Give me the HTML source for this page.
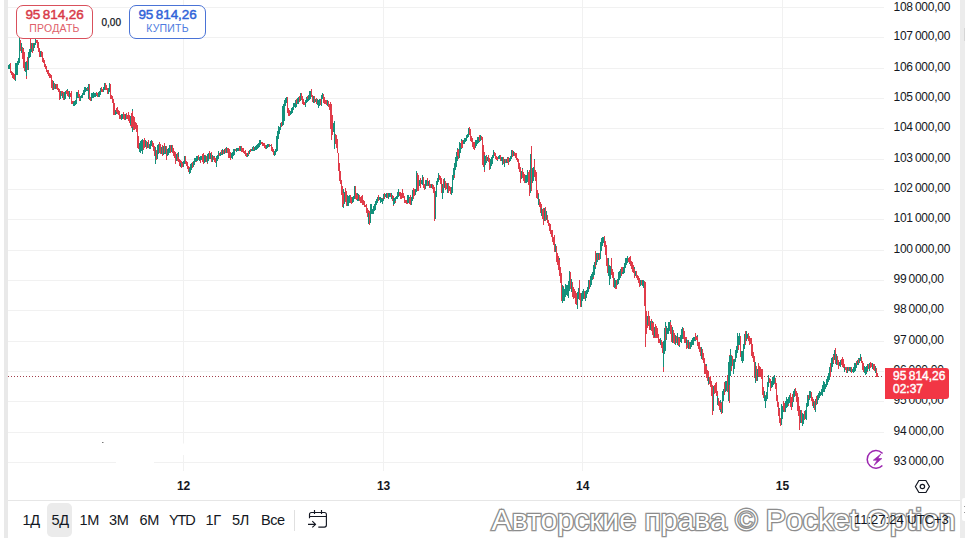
<!DOCTYPE html>
<html><head><meta charset="utf-8">
<style>
*{margin:0;padding:0;box-sizing:border-box}
html,body{width:965px;height:538px;overflow:hidden;background:#fff}
body{position:relative;font-family:"Liberation Sans","DejaVu Sans",sans-serif;color:#131722}
.abs{position:absolute}
#lstrip{left:4px;top:0;width:4px;height:538px;background:#e9e9e9}
#rstrip{left:960px;top:0;width:5px;height:538px;background:#ececec}
#chart{left:0;top:0}
.g{stroke:#14917c;stroke-width:1px;fill:none;shape-rendering:crispEdges}.r{stroke:#e03c4a;stroke-width:1px;fill:none;shape-rendering:crispEdges}
.pl{position:absolute;left:893.5px;font-size:12px;letter-spacing:-0.25px;line-height:14px;color:#131722;white-space:nowrap}
.tl{position:absolute;top:479px;font-size:12px;font-weight:bold;width:40px;margin-left:-20px;text-align:center;line-height:14px}
.box{position:absolute;top:5px;height:34px;border:1px solid;border-radius:7px;background:#fff;text-align:center}
.box .p{font-size:13.5px;font-weight:normal;-webkit-text-stroke:0.45px currentColor;line-height:14px;margin-top:2px;letter-spacing:-0.1px}
.box .l{font-size:10.5px;line-height:12px;margin-top:0px;letter-spacing:0.2px}
#sell{left:16px;width:77px;border-color:#d9505c;color:#d83a48}
#sell .l{color:#e0606a}
#buy{left:129px;width:77px;border-color:#4a73d6;color:#2f63d8}
#buy .l{color:#4e7be0}
#spread{left:101.5px;top:17px;font-size:10px;line-height:12px;-webkit-text-stroke:0.25px #131722}
#lastbox{left:885px;top:368px;width:64px;height:31px;background:#f23645;border-radius:0 3px 3px 0;color:#fff;font-size:12px;line-height:13px;padding:2px 0 0 8px;font-weight:bold}
#lastbox div{font-weight:normal;-webkit-text-stroke:0.4px #fff}
#tb{left:8px;top:500px;width:952px;height:38px;border-top:1px solid #e6e6e6}
.rb{position:absolute;top:513px;font-size:14.5px;line-height:14px;white-space:nowrap;letter-spacing:-0.4px}
#hl{left:47px;top:503px;width:25px;height:34px;background:#ebebeb;border-radius:5px}
#sep{left:294px;top:510px;width:1px;height:21px;background:#e0e0e0}
#time{left:854px;top:513px;font-size:13px;line-height:14px;white-space:nowrap}
#wm{left:491.5px;top:501.3px;font-size:30.2px;line-height:38px;white-space:nowrap;color:#fff;-webkit-text-stroke:2.6px #999;paint-order:stroke fill;text-shadow:0 0 1.5px rgba(0,0,0,0.45)}
</style></head><body>
<div class="abs" id="lstrip"></div>
<div class="abs" id="rstrip"></div>
<svg class="abs" id="chart" width="965" height="538" viewBox="0 0 965 538">
<g stroke="#f1f1f1" stroke-width="1" shape-rendering="crispEdges">
<line x1="8" y1="7.5" x2="884" y2="7.5"/><line x1="8" y1="37.5" x2="884" y2="37.5"/><line x1="8" y1="68.5" x2="884" y2="68.5"/><line x1="8" y1="98.5" x2="884" y2="98.5"/><line x1="8" y1="128.5" x2="884" y2="128.5"/><line x1="8" y1="159.5" x2="884" y2="159.5"/><line x1="8" y1="189.5" x2="884" y2="189.5"/><line x1="8" y1="219.5" x2="884" y2="219.5"/><line x1="8" y1="250.5" x2="884" y2="250.5"/><line x1="8" y1="280.5" x2="884" y2="280.5"/><line x1="8" y1="310.5" x2="884" y2="310.5"/><line x1="8" y1="341.5" x2="884" y2="341.5"/><line x1="8" y1="371.5" x2="884" y2="371.5"/><line x1="8" y1="401.5" x2="884" y2="401.5"/><line x1="8" y1="432.5" x2="884" y2="432.5"/><line x1="8" y1="462.5" x2="884" y2="462.5"/>
<line x1="183.5" y1="0" x2="183.5" y2="471"/><line x1="383.5" y1="0" x2="383.5" y2="471"/><line x1="582.5" y1="0" x2="582.5" y2="471"/><line x1="782.5" y1="0" x2="782.5" y2="471"/>
</g>
<rect x="116" y="461" width="38" height="3" fill="#fff"/><rect x="182" y="443.5" width="3" height="11.5" fill="#fff"/><rect x="102" y="442" width="1.5" height="1" fill="#777"/>
<line x1="8" y1="376.5" x2="884" y2="376.5" stroke="#a3404c" stroke-width="1" stroke-dasharray="1 2" shape-rendering="crispEdges"/>
<g><path class="g" d="M8.5 65.1V69.2M9.5 64.4V69.2"/><path class="r" d="M10.5 63.4V72.5M10.5 64.0V72.8M11.5 71.2V74.9M12.5 72.0V78.1M12.5 72.4V77.1M13.5 73.4V79.2"/><path class="g" d="M14.5 74.1V79.2"/><path class="r" d="M14.5 73.6V80.3"/><path class="g" d="M15.5 63.4V81.4M16.5 63.1V74.7M17.5 61.1V74.7M17.5 61.8V65.0M18.5 58.4V64.7M19.5 49.9V62.7M19.5 37.9V62.4"/><path class="r" d="M20.5 40.0V50.8"/><path class="g" d="M21.5 43.3V52.4M21.5 46.4V52.5"/><path class="r" d="M22.5 46.6V59.1"/><path class="g" d="M23.5 47.7V59.1"/><path class="r" d="M23.5 49.3V68.0M24.5 52.2V71.4"/><path class="g" d="M25.5 61.7V71.5"/><path class="r" d="M26.5 61.1V79.1"/><path class="g" d="M26.5 61.5V75.8"/><path class="r" d="M27.5 56.7V70.2"/><path class="g" d="M28.5 56.3V70.2M28.5 52.2V70.2M29.5 48.5V57.8M30.5 37.9V56.9"/><path class="r" d="M30.5 37.9V48.7"/><path class="g" d="M31.5 42.6V52.4"/><path class="r" d="M32.5 43.3V52.6M33.5 46.7V49.8"/><path class="g" d="M33.5 43.3V51.3M34.5 42.8V47.9M35.5 39.9V45.2M35.5 37.9V44.6"/><path class="r" d="M36.5 40.4V43.2M37.5 39.9V47.9M37.5 41.9V47.9M38.5 42.2V52.4M39.5 47.6V55.5M39.5 49.9V56.9"/><path class="g" d="M40.5 51.0V57.0"/><path class="r" d="M41.5 51.1V56.9M42.5 53.2V57.9M42.5 52.2V62.4M43.5 57.8V62.8"/><path class="g" d="M44.5 59.5V64.7"/><path class="r" d="M44.5 59.9V66.9M45.5 63.5V69.2M46.5 65.6V71.4M46.5 67.9V71.8M47.5 69.6V73.6M48.5 70.0V74.7M48.5 71.9V75.5M49.5 73.4V78.1M50.5 74.3V78.1M51.5 74.5V82.5M51.5 77.1V87.5M52.5 80.1V90.1M53.5 81.1V90.2"/><path class="g" d="M53.5 81.2V90.2"/><path class="r" d="M54.5 83.2V88.9M55.5 85.5V88.5"/><path class="g" d="M55.5 84.2V89.2"/><path class="r" d="M56.5 84.2V89.2"/><path class="g" d="M57.5 84.4V88.7"/><path class="r" d="M57.5 84.4V89.8M58.5 87.9V92.4M59.5 88.9V100.1"/><path class="g" d="M60.5 90.8V98.7M60.5 91.1V96.9"/><path class="r" d="M61.5 91.0V95.9M62.5 91.1V98.0"/><path class="g" d="M62.5 92.8V97.6"/><path class="r" d="M63.5 92.2V100.1"/><path class="g" d="M64.5 92.2V100.1M64.5 93.1V99.3M65.5 91.1V99.1"/><path class="r" d="M66.5 90.0V94.2"/><path class="g" d="M67.5 88.9V95.7"/><path class="r" d="M67.5 91.0V95.9M68.5 91.1V96.9M69.5 92.1V98.9"/><path class="g" d="M69.5 91.1V99.1"/><path class="r" d="M70.5 93.0V97.4M71.5 91.1V101.3M71.5 91.1V103.6M72.5 101.2V103.9M73.5 101.1V105.8"/><path class="g" d="M73.5 102.0V105.9M74.5 101.1V106.0M75.5 99.9V105.3M76.5 92.2V103.6M76.5 92.0V99.1M77.5 92.0V98.3M78.5 89.9V98.2"/><path class="r" d="M78.5 90.2V97.4M79.5 94.4V101.3M80.5 96.5V101.4"/><path class="g" d="M80.5 95.5V101.3M81.5 95.3V98.2M82.5 93.3V98.0M82.5 92.9V96.9M83.5 89.9V95.1M84.5 86.6V94.6M85.5 88.1V92.4M85.5 86.6V91.4M86.5 87.5V91.4M87.5 86.6V91.3"/><path class="r" d="M87.5 88.1V90.4"/><path class="g" d="M88.5 84.4V99.1"/><path class="r" d="M89.5 84.4V99.4M89.5 95.3V100.2M90.5 96.7V101.3"/><path class="g" d="M91.5 97.2V101.3M91.5 93.3V100.1M92.5 93.2V98.2M93.5 92.2V98.0"/><path class="r" d="M94.5 92.5V95.9"/><path class="g" d="M94.5 93.2V97.0M95.5 93.1V97.0M96.5 92.2V96.0"/><path class="r" d="M96.5 92.2V95.4M97.5 93.2V96.9"/><path class="g" d="M98.5 92.2V96.9M98.5 92.0V97.0M99.5 91.1V96.9M100.5 88.4V94.6M101.5 86.6V92.4"/><path class="r" d="M101.5 86.6V91.6M102.5 88.5V92.4"/><path class="g" d="M103.5 87.7V92.4M103.5 86.8V91.0M104.5 83.3V90.1"/><path class="r" d="M105.5 83.2V89.3M105.5 83.3V90.1M106.5 85.4V90.0M107.5 87.7V93.5M107.5 88.7V93.6"/><path class="g" d="M108.5 87.7V93.5M109.5 83.3V92.4"/><path class="r" d="M110.5 84.4V91.2M110.5 84.4V99.1M111.5 95.4V99.3M112.5 95.5V100.1M112.5 98.4V102.9M113.5 98.9V115.1M114.5 103.1V112.3M114.5 106.4V114.9"/><path class="g" d="M115.5 109.7V115.2M116.5 109.2V114.4"/><path class="r" d="M116.5 108.2V111.8M117.5 106.9V114.1M118.5 109.5V115.2M119.5 110.8V119.1M119.5 112.5V119.4M120.5 115.2V119.4"/><path class="g" d="M121.5 114.6V120.2M121.5 114.2V118.5M122.5 113.7V118.9"/><path class="r" d="M123.5 112.4V119.4M123.5 113.8V119.3M124.5 114.4V120.1"/><path class="g" d="M125.5 114.5V119.6M125.5 113.5V118.5"/><path class="r" d="M126.5 112.8V119.3M127.5 114.7V119.1"/><path class="g" d="M128.5 115.7V119.2"/><path class="r" d="M128.5 112.4V120.8M129.5 115.1V122.7M130.5 116.2V126.1"/><path class="g" d="M130.5 116.0V124.9"/><path class="r" d="M131.5 113.0V127.7"/><path class="g" d="M132.5 108.7V132.1"/><path class="r" d="M132.5 111.3V126.6M133.5 115.8V130.2M134.5 116.9V130.1M135.5 121.8V128.0M135.5 121.6V128.5M136.5 123.1V132.4M137.5 126.4V146.9M137.5 124.5V147.6M138.5 135.6V148.8M139.5 144.1V149.0"/><path class="g" d="M139.5 143.4V151.8M140.5 140.7V152.7M141.5 140.4V150.3M141.5 142.3V150.9M142.5 139.0V153.5"/><path class="r" d="M143.5 139.8V149.5M144.5 139.7V147.5M144.5 137.5V147.6"/><path class="g" d="M145.5 139.9V147.1"/><path class="r" d="M146.5 140.6V148.9M146.5 142.5V148.7"/><path class="g" d="M147.5 141.6V147.7"/><path class="r" d="M148.5 140.2V148.1M148.5 142.3V148.1"/><path class="g" d="M149.5 143.9V148.8M150.5 140.7V148.8M150.5 141.8V145.8M151.5 140.2V146.4"/><path class="r" d="M152.5 141.4V146.8M153.5 144.4V148.8M153.5 142.9V151.3M154.5 146.2V155.7M155.5 149.5V158.8"/><path class="g" d="M155.5 146.8V163.7"/><path class="r" d="M156.5 150.2V159.9"/><path class="g" d="M157.5 146.8V158.8M157.5 145.4V156.7M158.5 143.7V153.7"/><path class="r" d="M159.5 141.9V152.9M160.5 144.4V152.1M160.5 144.2V154.4"/><path class="g" d="M161.5 146.7V154.3"/><path class="r" d="M162.5 145.2V154.6M162.5 144.8V156.1"/><path class="g" d="M163.5 146.3V155.3M164.5 145.2V153.9"/><path class="r" d="M164.5 142.9V153.0"/><path class="g" d="M165.5 146.4V154.0"/><path class="r" d="M166.5 146.2V158.8M166.5 146.9V160.1"/><path class="g" d="M167.5 149.3V156.1M168.5 148.3V155.1"/><path class="r" d="M169.5 148.7V152.7"/><path class="g" d="M169.5 145.3V152.6"/><path class="r" d="M170.5 144.8V152.8"/><path class="g" d="M171.5 145.3V151.5M171.5 146.0V151.4"/><path class="r" d="M172.5 144.9V153.3M173.5 147.8V152.5M173.5 148.2V156.1M174.5 150.5V157.8M175.5 152.9V159.9M175.5 152.2V163.7"/><path class="g" d="M176.5 153.6V161.4"/><path class="r" d="M177.5 153.3V160.5"/><path class="g" d="M178.5 152.4V161.0"/><path class="r" d="M178.5 156.5V162.0M179.5 158.7V165.6M180.5 160.1V166.0"/><path class="g" d="M180.5 163.0V167.1"/><path class="r" d="M181.5 161.4V167.6"/><path class="g" d="M182.5 161.7V167.3"/><path class="r" d="M182.5 163.3V167.2"/><path class="g" d="M183.5 160.8V167.4M184.5 159.7V164.1M184.5 155.9V164.3"/><path class="r" d="M185.5 156.0V164.4M186.5 160.5V165.6M187.5 161.6V169.4M187.5 165.8V169.1M188.5 165.8V172.2M189.5 166.8V174.0"/><path class="g" d="M189.5 168.1V173.5M190.5 164.4V173.4M191.5 164.1V170.1M191.5 162.8V169.0"/><path class="r" d="M192.5 161.6V167.8"/><path class="g" d="M193.5 160.5V167.2M194.5 158.4V164.5M194.5 157.5V163.7M195.5 158.0V162.2"/><path class="r" d="M196.5 155.9V162.3"/><path class="g" d="M196.5 156.4V161.4M197.5 156.0V160.7"/><path class="r" d="M198.5 154.8V160.3M198.5 155.9V160.4"/><path class="g" d="M199.5 157.4V160.8"/><path class="r" d="M200.5 155.5V162.8"/><path class="g" d="M200.5 156.2V160.4M201.5 155.7V160.0"/><path class="r" d="M202.5 153.9V162.3"/><path class="g" d="M203.5 155.1V161.6"/><path class="r" d="M203.5 153.2V163.8"/><path class="g" d="M204.5 155.0V163.2"/><path class="r" d="M205.5 155.4V161.7"/><path class="g" d="M205.5 155.6V162.1"/><path class="r" d="M206.5 156.4V162.2M207.5 154.2V163.7"/><path class="g" d="M207.5 153.6V162.6M208.5 153.4V160.5"/><path class="r" d="M209.5 150.5V158.6M209.5 154.3V158.8"/><path class="g" d="M210.5 152.6V158.5"/><path class="r" d="M211.5 152.4V162.0M212.5 154.6V161.2"/><path class="g" d="M212.5 155.3V162.0"/><path class="r" d="M213.5 156.0V160.3"/><path class="g" d="M214.5 156.3V160.7"/><path class="r" d="M214.5 156.7V162.0M215.5 157.6V163.4M216.5 159.4V166.7"/><path class="g" d="M216.5 155.5V167.4M217.5 154.9V161.1M218.5 151.8V159.1M218.5 151.4V158.1"/><path class="r" d="M219.5 152.5V156.4"/><path class="g" d="M220.5 152.2V156.4M221.5 151.3V155.4"/><path class="r" d="M221.5 150.2V154.2"/><path class="g" d="M222.5 148.5V154.5"/><path class="r" d="M223.5 149.6V153.8M223.5 150.4V153.6"/><path class="g" d="M224.5 149.1V153.5M225.5 149.0V152.6"/><path class="r" d="M225.5 147.6V152.8"/><path class="g" d="M226.5 146.9V152.8"/><path class="r" d="M227.5 148.4V152.8M228.5 147.9V156.6M228.5 148.5V158.3M229.5 149.2V157.6"/><path class="g" d="M230.5 152.7V158.1"/><path class="r" d="M230.5 152.2V160.1"/><path class="g" d="M231.5 153.1V158.4M232.5 152.2V158.5M232.5 151.6V155.2M233.5 149.3V155.8M234.5 148.5V154.6M234.5 148.5V152.5"/><path class="r" d="M235.5 148.5V151.0"/><path class="g" d="M236.5 147.6V151.6"/><path class="r" d="M237.5 148.9V151.2"/><path class="g" d="M237.5 147.6V151.0M238.5 147.5V150.5M239.5 146.6V150.3"/><path class="r" d="M239.5 145.8V150.8"/><path class="g" d="M240.5 146.3V150.6M241.5 146.2V150.5"/><path class="r" d="M241.5 145.9V151.9M242.5 147.5V151.5M243.5 148.0V152.6M243.5 149.2V152.6M244.5 150.6V153.9M245.5 150.3V156.2M246.5 153.2V156.3M246.5 152.5V156.7"/><path class="g" d="M247.5 152.9V157.1M248.5 152.2V155.7"/><path class="r" d="M248.5 150.5V154.8"/><path class="g" d="M249.5 150.3V153.5M250.5 149.7V152.2"/><path class="r" d="M250.5 148.5V151.9"/><path class="g" d="M251.5 148.5V151.2M252.5 146.7V151.1M253.5 145.8V150.8"/><path class="r" d="M253.5 147.2V150.4"/><path class="g" d="M254.5 146.6V150.8"/><path class="r" d="M255.5 147.4V149.6"/><path class="g" d="M255.5 145.9V149.9M256.5 144.9V150.0M257.5 144.3V148.7M257.5 145.3V147.7M258.5 142.5V147.9M259.5 142.0V146.7M259.5 140.3V144.8M260.5 140.3V145.4"/><path class="r" d="M261.5 141.8V144.3M262.5 141.8V146.3M262.5 142.3V145.2M263.5 143.3V145.7M264.5 142.9V148.1M264.5 144.9V147.9M265.5 145.4V148.8"/><path class="g" d="M266.5 144.6V148.8M266.5 145.5V148.3M267.5 143.8V148.1"/><path class="r" d="M268.5 144.8V147.4"/><path class="g" d="M268.5 144.3V147.1"/><path class="r" d="M269.5 143.8V147.3"/><path class="g" d="M270.5 144.5V146.3"/><path class="r" d="M271.5 144.0V149.3M271.5 143.9V150.8M272.5 147.1V152.0M273.5 148.9V154.4M273.5 151.1V154.8"/><path class="g" d="M274.5 150.9V156.1M275.5 150.6V154.8M275.5 148.6V153.0M276.5 136.0V151.5M277.5 134.0V150.7M277.5 130.7V143.5M278.5 126.3V139.4M279.5 126.7V133.8M280.5 122.6V129.5M280.5 122.9V128.2"/><path class="r" d="M281.5 122.4V127.0"/><path class="g" d="M282.5 120.8V125.8M282.5 106.2V123.7M283.5 103.6V124.7M284.5 102.1V120.5M284.5 99.9V108.5M285.5 98.0V106.1M286.5 97.3V103.0"/><path class="r" d="M287.5 96.6V106.6M287.5 104.3V112.6M288.5 107.8V115.6M289.5 109.8V114.1M289.5 110.9V115.6"/><path class="g" d="M290.5 111.1V115.0M291.5 109.2V113.8M291.5 107.7V113.7M292.5 106.5V113.4M293.5 104.3V110.0M293.5 103.3V109.8M294.5 103.0V107.1M295.5 100.3V108.4M296.5 99.8V107.2"/><path class="r" d="M296.5 98.9V104.3"/><path class="g" d="M297.5 98.3V104.2M298.5 98.4V104.1M298.5 96.9V102.3"/><path class="r" d="M299.5 96.1V102.4"/><path class="g" d="M300.5 95.9V101.0M300.5 92.9V101.0"/><path class="r" d="M301.5 93.2V99.7M302.5 96.4V103.2M302.5 98.3V104.2M303.5 98.7V105.0M304.5 102.1V104.6"/><path class="g" d="M305.5 101.6V107.1M305.5 100.0V104.3M306.5 96.6V103.2M307.5 96.5V101.9"/><path class="r" d="M307.5 95.6V99.0"/><path class="g" d="M308.5 94.7V100.7M309.5 93.6V100.0M309.5 91.2V98.1M310.5 90.6V98.7"/><path class="r" d="M311.5 89.2V95.6M311.5 91.0V97.4M312.5 94.6V101.9"/><path class="g" d="M313.5 96.4V102.6"/><path class="r" d="M314.5 96.7V101.4M314.5 96.4V102.6"/><path class="g" d="M315.5 98.8V102.2"/><path class="r" d="M316.5 97.9V101.8M316.5 98.2V104.1"/><path class="g" d="M317.5 99.0V105.3"/><path class="r" d="M318.5 100.6V107.1"/><path class="g" d="M318.5 99.9V108.0M319.5 99.0V106.1"/><path class="r" d="M320.5 98.9V104.7"/><path class="g" d="M321.5 95.8V106.1M321.5 94.9V101.8M322.5 92.9V99.3"/><path class="r" d="M323.5 94.4V99.3M323.5 95.7V103.3M324.5 96.6V104.2M325.5 99.7V103.5M325.5 99.5V104.2M326.5 100.3V104.5M327.5 101.1V104.7"/><path class="g" d="M327.5 100.2V106.1"/><path class="r" d="M328.5 101.2V106.9M329.5 104.0V110.2M330.5 102.1V113.5M330.5 103.6V129.1M331.5 103.9V139.5M332.5 115.2V131.6M332.5 120.6V135.0"/><path class="g" d="M333.5 122.5V132.3"/><path class="r" d="M334.5 124.3V148.8"/><path class="g" d="M334.5 120.8V148.8"/><path class="r" d="M335.5 133.7V144.4M336.5 135.4V147.4M336.5 138.9V148.1M337.5 139.2V153.2M338.5 152.6V171.4M339.5 163.3V174.1M339.5 168.8V180.8M340.5 170.8V184.0M341.5 180.1V187.5M341.5 179.9V195.2M342.5 186.2V207.4"/><path class="g" d="M343.5 189.3V208.1"/><path class="r" d="M343.5 192.7V204.1"/><path class="g" d="M344.5 192.3V204.4M345.5 189.5V201.3"/><path class="r" d="M345.5 187.5V201.7M346.5 191.4V206.1"/><path class="g" d="M347.5 195.4V206.1"/><path class="r" d="M348.5 196.0V205.8"/><path class="g" d="M348.5 196.4V206.1M349.5 195.0V203.0"/><path class="r" d="M350.5 194.9V203.0M350.5 198.0V202.2M351.5 196.6V204.4"/><path class="g" d="M352.5 198.9V201.9M352.5 196.6V203.0M353.5 196.4V201.8M354.5 185.9V199.3"/><path class="r" d="M355.5 185.5V199.0M355.5 185.8V199.3M356.5 192.8V199.9"/><path class="g" d="M357.5 192.9V200.8"/><path class="r" d="M357.5 194.9V199.0"/><path class="g" d="M358.5 194.4V200.8"/><path class="r" d="M359.5 194.9V199.3M359.5 196.3V201.1M360.5 196.5V202.6M361.5 196.2V202.6M361.5 197.2V202.9M362.5 194.9V204.7M363.5 199.6V205.3M364.5 200.8V205.1M364.5 202.4V207.0M365.5 204.5V206.9M366.5 204.0V210.1M366.5 206.0V212.6M367.5 208.3V217.2M368.5 209.9V218.5"/><path class="g" d="M368.5 213.3V223.5"/><path class="r" d="M369.5 211.4V224.9"/><path class="g" d="M370.5 209.5V223.1M370.5 204.2V217.0M371.5 204.3V213.7M372.5 208.6V213.8M373.5 207.7V213.9M373.5 206.0V212.8M374.5 203.7V210.8M375.5 201.9V210.1M375.5 200.8V206.0M376.5 198.6V205.4M377.5 199.2V202.9M377.5 197.2V201.9"/><path class="r" d="M378.5 194.9V201.0"/><path class="g" d="M379.5 197.2V200.1"/><path class="r" d="M380.5 197.7V202.2"/><path class="g" d="M380.5 196.8V202.9M381.5 198.0V202.0"/><path class="r" d="M382.5 198.2V204.4"/><path class="g" d="M382.5 198.6V204.3M383.5 193.8V201.1M384.5 192.9V199.1"/><path class="r" d="M384.5 192.9V198.5"/><path class="g" d="M385.5 194.1V196.7M386.5 192.8V197.4M386.5 193.9V197.8"/><path class="r" d="M387.5 192.9V197.9"/><path class="g" d="M388.5 192.8V198.8"/><path class="r" d="M389.5 193.6V196.9"/><path class="g" d="M389.5 192.8V197.2"/><path class="r" d="M390.5 192.9V197.0M391.5 193.5V197.6"/><path class="g" d="M391.5 192.9V199.4"/><path class="r" d="M392.5 195.3V201.0M393.5 196.0V206.1"/><path class="g" d="M393.5 197.7V205.0M394.5 198.2V204.1"/><path class="r" d="M395.5 196.6V203.0"/><path class="g" d="M395.5 196.5V201.2M396.5 195.5V198.8M397.5 192.4V198.8M398.5 191.4V196.9M398.5 189.3V197.4"/><path class="r" d="M399.5 191.5V196.2M400.5 192.4V197.9M400.5 192.4V198.8M401.5 193.4V198.8"/><path class="g" d="M402.5 191.4V197.6"/><path class="r" d="M402.5 189.3V197.5M403.5 193.1V198.0M404.5 195.7V200.8M404.5 196.8V203.0M405.5 199.8V202.5M406.5 200.1V204.4M407.5 200.1V204.4"/><path class="g" d="M407.5 195.2V202.5M408.5 194.8V202.8M409.5 197.2V203.2"/><path class="r" d="M409.5 198.0V203.9M410.5 194.9V204.6"/><path class="g" d="M411.5 199.1V204.5M411.5 196.8V204.4M412.5 189.5V200.9"/><path class="r" d="M413.5 187.5V198.8"/><path class="g" d="M414.5 190.0V195.2"/><path class="r" d="M414.5 188.9V195.9"/><path class="g" d="M415.5 188.6V194.8M416.5 180.7V191.3M416.5 170.8V191.9"/><path class="r" d="M417.5 172.8V191.3"/><path class="g" d="M418.5 176.5V190.1"/><path class="r" d="M418.5 174.5V191.4"/><path class="g" d="M419.5 179.5V185.9M420.5 177.9V187.4"/><path class="r" d="M420.5 177.5V187.7"/><path class="g" d="M421.5 179.6V183.9M422.5 174.5V184.5"/><path class="r" d="M423.5 176.9V185.1M423.5 181.4V187.7M424.5 183.6V189.6"/><path class="g" d="M425.5 183.3V188.7M425.5 180.3V186.4M426.5 179.5V186.0M427.5 179.5V183.5"/><path class="r" d="M427.5 178.2V186.0"/><path class="g" d="M428.5 181.2V186.0M429.5 180.6V186.7"/><path class="r" d="M429.5 179.7V187.8M430.5 183.6V187.7"/><path class="g" d="M431.5 184.1V187.7"/><path class="r" d="M432.5 183.8V188.6M432.5 184.7V189.3M433.5 185.2V193.1M434.5 187.1V201.5M434.5 191.3V221.1"/><path class="g" d="M435.5 191.4V219.1M436.5 183.4V196.7M436.5 181.2V189.5M437.5 178.2V184.7M438.5 175.6V181.6M438.5 172.6V180.9"/><path class="r" d="M439.5 175.3V179.9M440.5 175.9V184.0M441.5 177.6V187.0M441.5 182.3V193.2"/><path class="g" d="M442.5 183.5V198.8M443.5 182.0V193.3"/><path class="r" d="M443.5 178.8V187.9"/><path class="g" d="M444.5 178.2V188.2"/><path class="r" d="M445.5 180.6V187.2M445.5 181.4V189.5M446.5 182.6V188.9"/><path class="g" d="M447.5 182.8V192.5"/><path class="r" d="M448.5 182.9V192.6M448.5 185.7V190.6M449.5 186.3V191.1M450.5 187.4V191.0M450.5 188.4V194.4"/><path class="g" d="M451.5 186.8V194.5M452.5 180.6V193.0M452.5 175.0V188.8M453.5 168.1V180.0"/><path class="r" d="M454.5 166.3V178.1"/><path class="g" d="M454.5 162.7V174.7M455.5 156.9V169.5M456.5 152.4V167.2M457.5 147.7V161.1"/><path class="r" d="M457.5 149.5V156.0M458.5 149.3V159.2"/><path class="g" d="M459.5 147.4V158.3M459.5 142.2V154.0M460.5 142.5V152.8M461.5 138.5V148.5"/><path class="r" d="M461.5 140.7V147.6M462.5 140.1V148.2"/><path class="g" d="M463.5 140.1V144.4M463.5 140.5V144.3M464.5 138.0V144.1M465.5 137.6V141.9M466.5 134.8V141.3M466.5 135.6V139.5M467.5 133.7V138.0M468.5 130.9V137.1M468.5 127.5V135.1"/><path class="r" d="M469.5 127.3V135.3M470.5 128.8V137.2M470.5 132.4V140.5M471.5 136.1V142.2M472.5 137.9V144.6M472.5 140.3V146.5M473.5 141.9V149.3M474.5 142.0V149.9"/><path class="g" d="M475.5 142.5V148.4M475.5 140.4V146.8M476.5 139.6V146.1"/><path class="r" d="M477.5 139.6V143.2"/><path class="g" d="M477.5 136.6V144.4M478.5 137.2V142.7M479.5 135.4V141.6"/><path class="r" d="M479.5 134.7V140.8"/><path class="g" d="M480.5 135.0V140.9"/><path class="r" d="M481.5 136.1V140.1M482.5 136.6V146.6M482.5 137.9V164.7M483.5 145.3V166.8M484.5 151.5V172.1"/><path class="g" d="M484.5 155.3V169.5M485.5 156.2V165.1M486.5 155.0V163.0"/><path class="r" d="M486.5 156.0V160.8"/><path class="g" d="M487.5 156.6V161.0"/><path class="r" d="M488.5 155.2V162.4M488.5 158.4V162.2M489.5 158.1V170.1"/><path class="g" d="M490.5 158.5V169.2M491.5 157.7V166.2M491.5 156.8V165.0M492.5 154.7V164.3M493.5 150.0V158.1M493.5 149.6V157.4"/><path class="r" d="M494.5 151.7V156.1M495.5 152.5V159.1M495.5 153.9V158.4M496.5 155.9V160.3"/><path class="g" d="M497.5 156.5V161.0"/><path class="r" d="M497.5 156.7V159.7"/><path class="g" d="M498.5 156.1V159.3M499.5 155.0V159.4M500.5 155.1V158.7"/><path class="r" d="M500.5 155.0V161.0"/><path class="g" d="M501.5 156.8V161.3"/><path class="r" d="M502.5 157.5V162.6"/><path class="g" d="M502.5 156.6V164.7"/><path class="r" d="M503.5 157.0V163.8M504.5 159.5V165.4"/><path class="g" d="M504.5 158.6V166.5"/><path class="r" d="M505.5 159.0V163.3"/><path class="g" d="M506.5 158.8V162.7M507.5 156.8V163.3"/><path class="r" d="M507.5 157.9V162.1M508.5 156.8V164.7"/><path class="g" d="M509.5 158.4V162.4M509.5 158.6V161.6M510.5 156.4V161.0M511.5 153.9V159.0M511.5 149.6V158.0"/><path class="r" d="M512.5 150.4V156.5"/><path class="g" d="M513.5 151.8V155.9M513.5 151.3V155.6"/><path class="r" d="M514.5 151.9V156.0M515.5 153.0V157.5M516.5 153.2V159.3M516.5 155.5V160.1M517.5 158.2V162.1M518.5 158.9V164.4M518.5 161.9V168.6M519.5 162.6V171.9M520.5 166.9V182.1M520.5 168.0V183.1"/><path class="g" d="M521.5 171.4V179.4M522.5 168.0V178.0"/><path class="r" d="M522.5 169.1V178.3M523.5 172.3V180.5M524.5 173.8V183.2M525.5 175.2V180.5"/><path class="g" d="M525.5 175.2V183.2M526.5 175.4V182.6M527.5 173.5V178.2M527.5 169.9V181.6"/><path class="r" d="M528.5 172.0V185.3"/><path class="g" d="M529.5 173.8V188.1"/><path class="r" d="M529.5 169.8V196.3"/><path class="g" d="M530.5 153.9V192.9"/><path class="r" d="M531.5 145.9V190.7M531.5 159.7V181.8"/><path class="g" d="M532.5 167.8V183.3M533.5 166.6V180.9M534.5 158.9V176.6"/><path class="r" d="M534.5 159.9V176.9M535.5 169.7V181.4M536.5 172.3V186.9M536.5 185.4V198.1M537.5 189.7V198.9M538.5 192.8V203.2"/><path class="g" d="M538.5 194.2V204.5"/><path class="r" d="M539.5 198.7V207.3M540.5 202.1V212.8M541.5 203.5V213.5"/><path class="g" d="M541.5 207.5V216.1"/><path class="r" d="M542.5 208.7V218.7M543.5 208.3V224.6M543.5 209.5V222.5"/><path class="g" d="M544.5 207.7V221.3"/><path class="r" d="M545.5 209.0V220.2M545.5 206.6V220.5"/><path class="g" d="M546.5 210.9V220.2"/><path class="r" d="M547.5 214.6V220.8M547.5 215.5V223.3M548.5 220.0V226.4M549.5 223.0V231.1M550.5 224.3V233.8M550.5 226.2V233.9M551.5 229.8V237.1M552.5 230.4V240.1M552.5 231.9V241.5M553.5 236.8V244.9M554.5 234.8V251.4M554.5 241.0V252.2"/><path class="g" d="M555.5 243.9V252.2"/><path class="r" d="M556.5 246.3V256.7M556.5 248.9V261.6M557.5 253.0V264.8M558.5 255.5V269.6"/><path class="g" d="M559.5 257.9V272.0"/><path class="r" d="M559.5 260.4V276.2M560.5 267.1V282.6M561.5 273.3V285.4M561.5 281.2V301.1"/><path class="g" d="M562.5 284.7V302.7"/><path class="r" d="M563.5 286.0V300.8"/><path class="g" d="M563.5 286.5V300.9M564.5 288.5V300.5M565.5 287.3V296.1M565.5 284.2V296.5M566.5 284.7V294.6M567.5 285.2V295.5M568.5 281.2V298.1M568.5 281.0V293.7M569.5 271.3V290.6"/><path class="r" d="M570.5 272.4V286.9M570.5 279.2V289.0"/><path class="g" d="M571.5 279.4V291.6"/><path class="r" d="M572.5 281.9V291.7M572.5 285.4V297.4M573.5 286.9V298.6M574.5 289.1V298.4M575.5 290.8V302.7M575.5 294.8V303.6M576.5 292.5V305.2"/><path class="g" d="M577.5 293.2V309.4M577.5 291.6V308.1M578.5 288.4V298.9"/><path class="r" d="M579.5 280.2V299.9M579.5 281.4V298.5M580.5 292.6V306.6"/><path class="g" d="M581.5 293.2V307.1M581.5 293.1V306.0M582.5 290.7V301.3M583.5 289.1V298.9"/><path class="r" d="M584.5 291.4V296.9M584.5 292.9V298.6"/><path class="g" d="M585.5 291.0V300.5M586.5 290.9V298.3M586.5 289.6V295.4M587.5 286.7V293.9M588.5 285.3V291.9M588.5 280.2V290.0"/><path class="r" d="M589.5 279.8V289.3"/><path class="g" d="M590.5 279.8V286.7M590.5 276.3V283.8M591.5 273.5V285.3M592.5 271.7V279.8"/><path class="r" d="M593.5 271.0V279.3"/><path class="g" d="M593.5 264.6V277.1M594.5 262.2V274.7M595.5 255.2V268.5"/><path class="r" d="M595.5 251.1V267.1"/><path class="g" d="M596.5 253.1V265.2M597.5 252.9V261.6"/><path class="r" d="M597.5 253.9V259.6"/><path class="g" d="M598.5 253.3V259.7"/><path class="r" d="M599.5 253.2V260.4"/><path class="g" d="M600.5 248.6V259.2M600.5 241.8V253.5M601.5 237.7V251.4M602.5 240.2V245.6M602.5 236.7V244.3M603.5 237.4V242.5"/><path class="r" d="M604.5 235.9V243.2M604.5 235.6V246.7M605.5 240.8V254.6M606.5 244.5V263.0M606.5 254.3V266.4M607.5 258.2V272.9"/><path class="g" d="M608.5 257.9V275.9"/><path class="r" d="M609.5 265.4V277.8"/><path class="g" d="M609.5 266.3V284.9M610.5 266.2V278.7"/><path class="r" d="M611.5 258.6V274.7M611.5 257.9V275.3M612.5 268.8V278.0M613.5 271.5V287.1M613.5 276.7V284.9"/><path class="g" d="M614.5 278.1V287.6"/><path class="r" d="M615.5 280.0V289.4"/><path class="g" d="M615.5 280.1V287.0"/><path class="r" d="M616.5 280.0V288.5"/><path class="g" d="M617.5 279.2V285.3M618.5 278.2V284.4M618.5 271.8V280.8M619.5 270.7V280.4M620.5 269.4V278.0M620.5 268.7V275.6"/><path class="r" d="M621.5 266.8V275.9"/><path class="g" d="M622.5 266.8V274.0"/><path class="r" d="M622.5 266.8V271.9"/><path class="g" d="M623.5 266.8V273.9M624.5 265.6V272.8M624.5 263.2V268.9M625.5 257.9V267.9M626.5 257.5V264.7"/><path class="r" d="M627.5 257.0V262.1"/><path class="g" d="M627.5 255.7V263.4"/><path class="r" d="M628.5 257.9V261.6"/><path class="g" d="M629.5 256.9V263.7"/><path class="r" d="M629.5 256.7V262.9M630.5 255.7V265.6M631.5 261.0V266.3M631.5 261.7V269.1M632.5 262.3V271.7M633.5 264.8V272.6"/><path class="g" d="M634.5 267.0V274.0"/><path class="r" d="M634.5 268.5V278.1"/><path class="g" d="M635.5 271.4V275.7"/><path class="r" d="M636.5 271.9V276.1M636.5 270.9V278.2M637.5 274.5V279.8M638.5 276.4V280.7M638.5 277.1V283.3M639.5 277.9V287.1"/><path class="g" d="M640.5 280.2V286.0M640.5 280.7V284.1"/><path class="r" d="M641.5 280.0V285.2"/><path class="g" d="M642.5 280.4V285.6"/><path class="r" d="M643.5 281.6V286.0"/><path class="g" d="M643.5 280.1V287.9"/><path class="r" d="M644.5 280.9V306.4M645.5 282.3V328.2M645.5 282.4V346.9M646.5 311.1V334.3M647.5 315.6V327.8"/><path class="g" d="M647.5 315.5V324.5"/><path class="r" d="M648.5 310.9V325.6"/><path class="g" d="M649.5 317.1V327.7"/><path class="r" d="M649.5 315.5V329.5"/><path class="g" d="M650.5 320.8V329.9"/><path class="r" d="M651.5 319.2V331.3"/><path class="g" d="M652.5 321.3V329.8"/><path class="r" d="M652.5 323.2V335.4M653.5 322.1V338.2M654.5 326.7V337.9"/><path class="g" d="M654.5 326.6V336.9"/><path class="r" d="M655.5 324.4V338.2M656.5 327.6V336.2M656.5 326.4V338.2M657.5 328.1V338.0M658.5 333.9V341.1M658.5 335.6V343.0M659.5 338.9V343.1"/><path class="g" d="M660.5 337.6V344.7"/><path class="r" d="M661.5 340.0V344.0M661.5 341.0V348.2M662.5 342.3V352.5M663.5 343.9V371.5"/><path class="g" d="M663.5 340.7V366.9M664.5 328.3V353.6M665.5 322.2V351.4"/><path class="r" d="M665.5 326.6V339.9"/><path class="g" d="M666.5 326.1V339.6M667.5 328.2V334.3"/><path class="r" d="M668.5 326.3V332.0"/><path class="g" d="M668.5 321.9V333.6M669.5 321.7V330.9M670.5 319.9V331.7"/><path class="r" d="M670.5 321.6V334.1M671.5 324.9V341.9"/><path class="g" d="M672.5 326.7V342.6M672.5 329.0V337.8"/><path class="r" d="M673.5 330.1V342.6M674.5 333.2V340.6M674.5 334.9V344.1"/><path class="g" d="M675.5 335.3V344.8"/><path class="r" d="M676.5 336.1V342.9M677.5 335.0V344.0"/><path class="g" d="M677.5 333.4V345.1"/><path class="r" d="M678.5 336.9V345.7"/><path class="g" d="M679.5 337.3V346.9"/><path class="r" d="M679.5 337.7V345.2"/><path class="g" d="M680.5 334.5V341.6M681.5 330.5V342.5M681.5 329.0V339.7M682.5 326.7V338.8"/><path class="r" d="M683.5 327.8V336.4M683.5 333.1V338.9M684.5 331.1V342.9M685.5 336.8V343.1M686.5 336.5V349.1"/><path class="g" d="M686.5 339.4V345.1"/><path class="r" d="M687.5 340.1V348.2"/><path class="g" d="M688.5 339.7V349.2M688.5 342.5V348.7"/><path class="r" d="M689.5 342.4V348.7"/><path class="g" d="M690.5 341.9V349.1M690.5 342.5V347.2M691.5 339.9V347.3M692.5 339.8V344.8M692.5 338.1V345.0M693.5 337.4V344.7M694.5 337.3V340.5M695.5 333.6V340.9"/><path class="r" d="M695.5 333.3V340.3M696.5 335.6V340.2"/><path class="g" d="M697.5 335.0V344.7"/><path class="r" d="M697.5 337.1V345.7M698.5 341.5V348.5M699.5 341.9V351.4M699.5 343.3V352.0M700.5 346.6V355.7"/><path class="g" d="M701.5 346.7V358.5"/><path class="r" d="M702.5 349.2V358.7M702.5 350.4V360.1M703.5 353.2V362.5M704.5 358.4V370.5M704.5 362.4V374.0M705.5 363.6V374.3"/><path class="g" d="M706.5 364.1V375.9"/><path class="r" d="M706.5 365.9V377.6M707.5 370.1V381.3M708.5 371.0V384.9"/><path class="g" d="M708.5 376.9V384.3"/><path class="r" d="M709.5 376.7V384.2M710.5 375.7V387.2M711.5 381.0V388.5M711.5 384.2V396.1M712.5 384.7V415.1"/><path class="g" d="M713.5 388.5V410.5M713.5 385.5V400.6"/><path class="r" d="M714.5 384.5V394.0"/><path class="g" d="M715.5 385.4V392.9"/><path class="r" d="M715.5 382.5V393.1M716.5 382.4V395.9M717.5 390.8V403.3"/><path class="g" d="M717.5 395.6V404.9"/><path class="r" d="M718.5 397.8V405.5M719.5 400.7V409.9"/><path class="g" d="M720.5 400.3V412.0"/><path class="r" d="M720.5 403.0V408.8M721.5 402.2V413.9"/><path class="g" d="M722.5 398.9V412.6M722.5 390.6V402.8M723.5 388.5V400.5M724.5 386.9V395.2"/><path class="r" d="M724.5 382.4V395.0"/><path class="g" d="M725.5 381.0V392.4M726.5 380.5V390.8M727.5 375.5V389.5"/><path class="r" d="M727.5 375.1V391.9"/><path class="g" d="M728.5 361.7V400.5"/><path class="r" d="M729.5 354.5V402.7"/><path class="g" d="M729.5 356.3V384.5M730.5 348.9V375.9"/><path class="r" d="M731.5 355.0V371.3"/><path class="g" d="M731.5 355.9V365.7"/><path class="r" d="M732.5 355.7V366.2M733.5 358.6V369.3"/><path class="g" d="M733.5 359.6V373.7M734.5 359.3V368.7M735.5 349.6V362.2M736.5 345.6V358.1M736.5 345.8V352.5M737.5 333.4V352.6"/><path class="r" d="M738.5 337.1V349.9"/><path class="g" d="M738.5 335.7V345.4M739.5 333.2V344.9"/><path class="r" d="M740.5 335.7V350.2M740.5 348.0V357.4"/><path class="g" d="M741.5 351.0V360.8"/><path class="r" d="M742.5 353.1V359.6"/><path class="g" d="M742.5 351.0V362.7M743.5 343.7V361.1M744.5 334.3V348.9"/><path class="r" d="M745.5 331.0V344.7M745.5 331.0V341.2"/><path class="g" d="M746.5 331.0V340.7"/><path class="r" d="M747.5 334.2V339.1"/><path class="g" d="M747.5 334.0V338.4"/><path class="r" d="M748.5 333.4V340.5M749.5 335.7V339.7M749.5 337.0V344.7M750.5 338.0V344.0M751.5 338.1V346.9M751.5 342.6V356.4M752.5 344.2V357.8M753.5 352.0V361.7M754.5 356.1V364.9M754.5 358.1V377.9"/><path class="g" d="M755.5 362.3V383.1"/><path class="r" d="M756.5 365.8V381.3M756.5 369.3V377.9"/><path class="g" d="M757.5 368.7V381.1M758.5 365.7V375.4"/><path class="r" d="M758.5 362.6V375.7M759.5 365.5V376.9M760.5 366.7V377.4"/><path class="g" d="M761.5 370.3V378.2"/><path class="r" d="M761.5 368.6V379.3M762.5 369.4V394.7M763.5 387.1V395.9M763.5 390.4V398.3"/><path class="g" d="M764.5 391.2V400.8"/><path class="r" d="M765.5 395.2V403.9"/><path class="g" d="M765.5 395.8V407.8M766.5 392.1V401.3M767.5 382.9V398.6M767.5 381.7V397.1M768.5 374.9V386.8"/><path class="r" d="M769.5 377.7V383.4M770.5 378.9V388.9M770.5 378.9V391.4"/><path class="g" d="M771.5 380.5V388.2M772.5 380.5V387.3M772.5 377.2V386.2M773.5 376.8V385.4"/><path class="r" d="M774.5 377.6V383.9"/><path class="g" d="M774.5 374.9V383.4"/><path class="r" d="M775.5 378.0V388.8M776.5 382.9V392.3M776.5 390.1V400.7M777.5 395.3V406.5M778.5 402.3V416.1"/><path class="g" d="M779.5 407.6V420.4"/><path class="r" d="M779.5 409.4V422.8M780.5 417.9V426.1"/><path class="g" d="M781.5 415.9V424.1M781.5 403.5V424.5M782.5 406.0V418.6M783.5 401.9V411.9"/><path class="r" d="M783.5 401.4V410.2M784.5 402.8V411.5"/><path class="g" d="M785.5 403.0V411.9M785.5 401.0V408.6M786.5 397.4V408.2M787.5 398.7V407.0"/><path class="r" d="M788.5 397.2V406.3"/><path class="g" d="M788.5 397.4V403.7M789.5 394.6V402.6"/><path class="r" d="M790.5 393.3V404.4M790.5 396.7V406.5M791.5 396.9V409.8"/><path class="g" d="M792.5 395.3V406.9"/><path class="r" d="M792.5 394.2V401.6"/><path class="g" d="M793.5 390.5V401.6M794.5 389.3V396.8"/><path class="r" d="M795.5 388.1V395.7M795.5 390.8V395.8M796.5 390.7V401.6M797.5 392.9V402.5M797.5 395.7V411.3M798.5 397.4V416.0M799.5 406.4V430.1M799.5 410.2V429.9"/><path class="g" d="M800.5 409.7V423.4"/><path class="r" d="M801.5 409.6V422.6M801.5 412.6V422.9"/><path class="g" d="M802.5 413.4V426.1M803.5 413.8V423.9M804.5 413.7V420.3"/><path class="r" d="M804.5 411.1V420.2"/><path class="g" d="M805.5 409.8V419.1M806.5 408.4V420.1M806.5 402.8V411.6M807.5 395.3V406.7M808.5 394.9V405.5"/><path class="r" d="M808.5 394.7V398.8"/><path class="g" d="M809.5 391.0V399.6"/><path class="r" d="M810.5 391.5V396.7"/><path class="g" d="M810.5 391.0V397.8"/><path class="r" d="M811.5 391.8V400.6M812.5 396.7V405.7M813.5 399.2V406.1"/><path class="g" d="M813.5 401.6V408.2"/><path class="r" d="M814.5 400.8V410.4"/><path class="g" d="M815.5 399.4V411.9M815.5 400.0V407.6"/><path class="r" d="M816.5 395.7V404.7"/><path class="g" d="M817.5 394.9V403.7M817.5 396.2V401.4M818.5 393.3V400.0M819.5 394.6V397.9M819.5 391.2V398.1M820.5 391.5V395.9M821.5 388.7V395.3M822.5 386.6V395.5M822.5 385.1V392.3M823.5 380.9V391.9M824.5 383.1V390.4M824.5 382.3V391.6M825.5 383.6V389.1M826.5 382.0V387.2M826.5 378.6V387.3M827.5 376.4V385.3M828.5 372.9V381.9M829.5 370.5V380.1M829.5 366.9V378.2"/><path class="r" d="M830.5 363.4V377.1"/><path class="g" d="M831.5 359.5V372.0M831.5 358.4V371.3M832.5 356.8V367.3M833.5 354.4V364.1"/><path class="r" d="M833.5 354.9V362.6"/><path class="g" d="M834.5 350.3V359.5"/><path class="r" d="M835.5 348.3V359.8M835.5 354.6V364.3"/><path class="g" d="M836.5 354.1V364.9"/><path class="r" d="M837.5 356.3V364.9M838.5 359.5V368.9M838.5 362.0V366.4"/><path class="g" d="M839.5 361.7V366.4M840.5 360.3V366.9M840.5 360.2V365.7"/><path class="r" d="M841.5 358.5V365.2M842.5 359.8V365.6M842.5 356.5V366.9M843.5 358.5V367.8M844.5 363.8V370.9"/><path class="g" d="M844.5 366.6V371.5"/><path class="r" d="M845.5 366.7V369.9M846.5 366.6V373.1"/><path class="g" d="M847.5 368.1V372.7M847.5 366.6V371.7"/><path class="r" d="M848.5 367.1V371.0"/><path class="g" d="M849.5 368.2V370.5M849.5 366.6V371.3M850.5 366.9V372.0"/><path class="r" d="M851.5 366.6V373.1M851.5 367.1V371.9"/><path class="g" d="M852.5 368.6V372.0M853.5 367.4V373.1M854.5 363.9V371.7M854.5 362.5V371.3M855.5 363.0V370.8M856.5 360.6V367.6"/><path class="r" d="M856.5 360.6V365.1"/><path class="g" d="M857.5 360.1V364.8M858.5 358.4V364.9"/><path class="r" d="M858.5 358.6V363.3"/><path class="g" d="M859.5 358.4V363.0M860.5 358.5V361.3M860.5 354.4V361.3"/><path class="r" d="M861.5 356.8V363.4M862.5 360.7V369.7M863.5 362.6V371.5M863.5 366.3V371.8"/><path class="g" d="M864.5 366.3V373.1"/><path class="r" d="M865.5 367.8V372.2"/><path class="g" d="M865.5 366.6V375.1M866.5 366.3V373.8"/><path class="r" d="M867.5 365.5V372.1"/><path class="g" d="M867.5 364.3V371.2"/><path class="r" d="M868.5 363.6V369.4"/><path class="g" d="M869.5 362.6V371.2M869.5 363.1V367.7"/><path class="r" d="M870.5 362.4V367.9M871.5 363.1V367.3M872.5 362.9V367.8"/><path class="g" d="M872.5 362.6V369.2"/><path class="r" d="M873.5 364.4V369.8M874.5 364.3V371.1M874.5 365.4V371.1"/><path class="g" d="M875.5 366.3V373.1"/><path class="r" d="M876.5 367.5V373.9M876.5 371.9V377.1M877.5 373.0V377.1"/></g>
<circle cx="876" cy="459.4" r="8.8" fill="#fff" stroke="#9c27b0" stroke-width="1.5" stroke-dasharray="41.9 13.4" transform="rotate(43.5 876 459.4)"/>
<path d="M880.8 454 L873.3 460.2 L877.2 460.2 L874.2 465.2 L881.8 458.6 L877.8 458.6 Z" fill="#9c27b0" stroke="#9c27b0" stroke-width="0.7" stroke-linejoin="round"/>
<g fill="none" stroke="#131722" stroke-width="1.2"><path d="M915.4 486.5 L918.9 480.5 L925.9 480.5 L929.4 486.5 L925.9 492.5 L918.9 492.5 Z"/><circle cx="922.4" cy="486.5" r="2.2"/></g>
<g fill="none" stroke="#131722" stroke-width="1.15" stroke-linejoin="round">
<path d="M309.5 518.3 V514.5 Q309.5 512.5 311.5 512.5 H324.4 Q326.4 512.5 326.4 514.5 V525.1 Q326.4 527.1 324.4 527.1 H318.3"/>
<path d="M309.5 516.5 H326.4 M314.5 510 V514 M321.5 510 V514"/>
<path d="M308 524.3 H315.6 M312.3 521.2 L315.6 524.3 L312.3 527.4"/>
</g>
</svg>
<div class="pl" style="top:0.0px">108&#8201;000,00</div>
<div class="pl" style="top:29.0px">107&#8201;000,00</div>
<div class="pl" style="top:60.0px">106&#8201;000,00</div>
<div class="pl" style="top:90.0px">105&#8201;000,00</div>
<div class="pl" style="top:120.0px">104&#8201;000,00</div>
<div class="pl" style="top:151.0px">103&#8201;000,00</div>
<div class="pl" style="top:181.0px">102&#8201;000,00</div>
<div class="pl" style="top:211.0px">101&#8201;000,00</div>
<div class="pl" style="top:242.0px">100&#8201;000,00</div>
<div class="pl" style="top:272.0px">99&#8201;000,00</div>
<div class="pl" style="top:302.0px">98&#8201;000,00</div>
<div class="pl" style="top:333.0px">97&#8201;000,00</div>
<div class="pl" style="top:363.0px">96&#8201;000,00</div>
<div class="pl" style="top:393.0px">95&#8201;000,00</div>
<div class="pl" style="top:424.0px">94&#8201;000,00</div>
<div class="pl" style="top:454.0px">93&#8201;000,00</div>
<div class="tl" style="left:183.6px">12</div><div class="tl" style="left:383.6px">13</div><div class="tl" style="left:582.8px">14</div><div class="tl" style="left:782.5px">15</div>
<div class="box" id="sell"><div class="p">95&#8201;814,26</div><div class="l">ПРОДАТЬ</div></div>
<div class="abs" id="spread">0,00</div>
<div class="box" id="buy"><div class="p">95&#8201;814,26</div><div class="l">КУПИТЬ</div></div>
<div class="abs" id="lastbox"><div>95&#8201;814,26</div><div>02:37</div></div>
<div class="abs" id="tb"></div>
<div class="abs" style="left:963.6px;top:28px;width:1.4px;height:13px;background:#d6d6d6"></div>
<div class="abs" style="left:961.5px;top:497.5px;width:3.5px;height:23px;background:#fff;border-radius:2px 0 0 2px"></div>
<div class="abs" style="left:963.8px;top:506px;width:1.2px;height:1.2px;background:#999"></div>
<div class="abs" style="left:963.8px;top:512px;width:1.2px;height:1.2px;background:#999"></div>
<div class="abs" id="hl"></div>
<div class="rb" style="left:22.5px">1Д</div>
<div class="rb" style="left:51.5px">5Д</div>
<div class="rb" style="left:79.5px">1М</div>
<div class="rb" style="left:109px">3М</div>
<div class="rb" style="left:139.5px">6М</div>
<div class="rb" style="left:169px;letter-spacing:-1.1px">YTD</div>
<div class="rb" style="left:205.5px">1Г</div>
<div class="rb" style="left:232px">5Л</div>
<div class="rb" style="left:261px">Все</div>
<div class="abs" id="sep"></div>
<div class="abs" id="wm">Авторские права © Pocket Option</div>
<div class="abs" id="time">11:27:24 UTC+3</div>
</body></html>
